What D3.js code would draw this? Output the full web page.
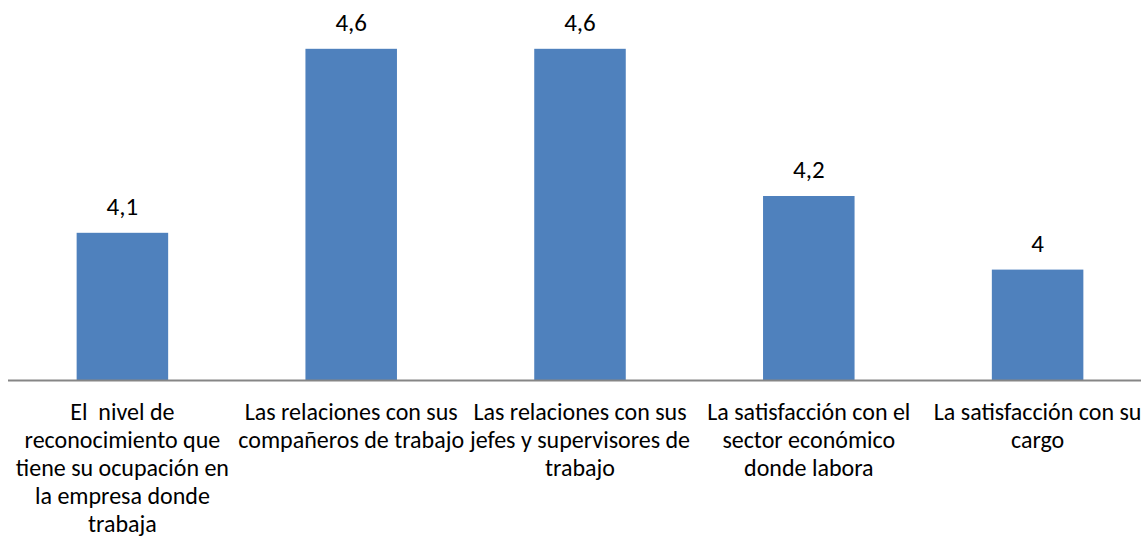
<!DOCTYPE html>
<html>
<head>
<meta charset="utf-8">
<script src="https://cdn.jsdelivr.net/npm/d3@7"></script>
<style>
  body { margin: 0; background: #fff; }
  text { font-family: Carlito, Calibri, "Liberation Sans", "Open Sans", sans-serif; fill: #000; }
</style>
</head>
<body>
<div id="chart"></div>
<script>
var categories = [
    ["El  nivel de", "reconocimiento que", "tiene su ocupación en", "la empresa donde", "trabaja"],
    ["Las relaciones con sus", "compañeros de trabajo"],
    ["Las relaciones con sus", "jefes y supervisores de", "trabajo"],
    ["La satisfacción con el", "sector económico", "donde labora"],
    ["La satisfacción con su", "cargo"]
];
var values = [4.1, 4.6, 4.6, 4.2, 4];
var valueLabels = ["4,1", "4,6", "4,6", "4,2", "4"];
var yDomain = [3.7, 4.7];

var W = 1141, H = 537;
// plot area (the band range runs a little past the right edge, like the original)
var margin = { top: 12, right: -11, bottom: 157, left: 8 },
    width = W - margin.left - margin.right,
    height = H - margin.top - margin.bottom;

var svg = d3.select("#chart")
    .append("svg")
    .attr("width", W)
    .attr("height", H)
    .append("g")
    .attr("transform", "translate(" + margin.left + "," + margin.top + ")");

var x = d3.scaleBand()
    .domain(d3.range(values.length))
    .range([0, width])
    .paddingInner(0.6)
    .paddingOuter(0.3);

var y = d3.scaleLinear()
    .domain(yDomain)
    .range([height, 0]);

// bars
svg.selectAll(".bar")
    .data(values)
    .enter()
    .append("rect")
    .attr("class", "bar")
    .attr("x", function(d, i) { return x(i); })
    .attr("y", function(d) { return y(d); })
    .attr("width", x.bandwidth())
    .attr("height", function(d) { return height - y(d); })
    .attr("fill", "#4F81BD");

// value labels
svg.selectAll(".val")
    .data(values)
    .enter()
    .append("text")
    .attr("class", "val")
    .attr("x", function(d, i) { return x(i) + x.bandwidth() / 2; })
    .attr("y", function(d) { return y(d) - 18; })
    .attr("text-anchor", "middle")
    .style("font-size", "25px")
    .text(function(d, i) { return valueLabels[i]; });

// x axis line
svg.append("line")
    .attr("x1", 0)
    .attr("x2", width)
    .attr("y1", height + 0.5)
    .attr("y2", height + 0.5)
    .attr("stroke", "#868686")
    .attr("stroke-width", 2);

// category labels
var lab = svg.selectAll(".cat")
    .data(categories)
    .enter()
    .append("text")
    .attr("class", "cat")
    .attr("text-anchor", "middle")
    .style("font-size", "24px")
    .attr("transform", function(d, i) {
        return "translate(" + (x(i) + x.bandwidth() / 2) + "," + (height + 40) + ")";
    });

lab.selectAll("tspan")
    .data(function(d) { return d; })
    .enter()
    .append("tspan")
    .attr("x", 0)
    .attr("dy", function(d, i) { return i === 0 ? 0 : 28; })
    .style("white-space", "pre")
    .text(function(d) { return d; });
</script>
</body>
</html>
